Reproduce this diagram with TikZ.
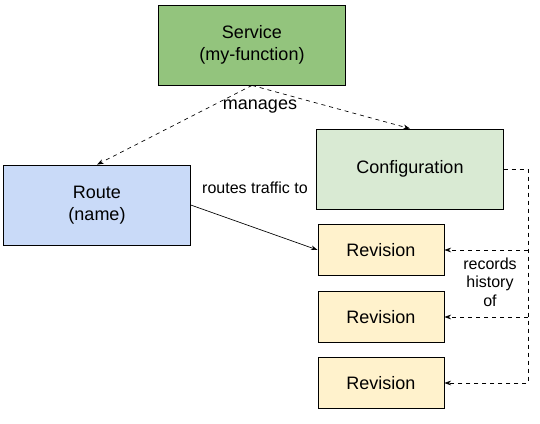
\documentclass[tikz,border=0pt]{standalone}
\usepackage{fontspec}
\setmainfont{Liberation Sans}
\usetikzlibrary{arrows.meta}

\definecolor{srvgreen}{HTML}{93C47D}
\definecolor{cfggreen}{HTML}{D9EAD3}
\definecolor{rteblue}{HTML}{C9DAF8}
\definecolor{revyellow}{HTML}{FFF2CC}

\begin{document}
\begin{tikzpicture}[x=0.75pt, y=-0.75pt,
  every node/.style = {align=center, inner sep=0pt},
  box/.style = {shape=rectangle, draw, line width=0.6pt,
    font=\fontsize{13.5}{16.5}\selectfont},
  lbl/.style = {font=\fontsize{12}{14}\selectfont},
  link/.style = {line width=0.5pt, -{Stealth[length=5pt,width=3.5pt]}}]
    \tikzstyle{big}=[box, minimum width=140pt, minimum height=60pt]
    \tikzstyle{rev}=[box, fill=revyellow, minimum width=94.5pt, minimum height=38pt]
  \useasboundingbox (0,0) rectangle (540,424);
  % the objects
  \node[big, fill=srvgreen] (srv) at (252,45) {Service\\(my-function)};
  \node[big, fill=cfggreen] (cfg) at (410,169) {Configuration};
  \node[big, fill=rteblue] (rte) at (97,205) {Route\\(name)};
  \node[rev] (rev1) at (381,250) {Revision};
  \node[rev] (rev2) at (381,317) {Revision};
  \node[rev] (rev3) at (381,383) {Revision};
  % how they relate
  \draw[link, dashed] (srv.south) -- (rte.north);
  \draw[link, dashed] (srv.south) -- (cfg.north);
  \node[lbl, font=\fontsize{13.5}{16}\selectfont] (mng) at (260,107) {manages};
  \draw[link] (rte.east) -- (rev1.west);
  \node[lbl] (rtl) at (255,188) {routes traffic to};
  \coordinate (bus) at (528,169);
  \draw[link, dashed] (cfg.east) -- (bus) |- (rev3.east);
  \draw[link, dashed] (bus |- rev1.east) -- (rev1.east);
  \draw[link, dashed] (bus |- rev2.east) -- (rev2.east);
  \node[lbl] (rec) at (490,282) {records\\history\\of};
\end{tikzpicture}
\end{document}
